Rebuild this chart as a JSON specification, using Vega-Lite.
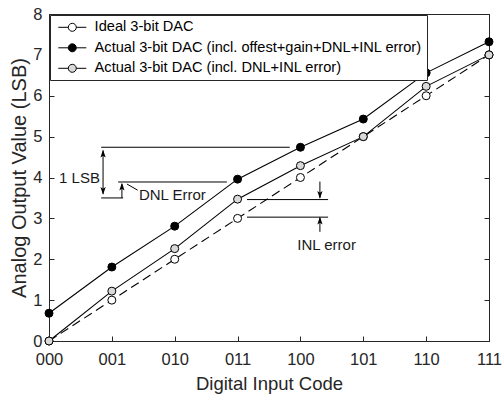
{
  "$schema": "https://vega.github.io/schema/vega-lite/v6.json",
  "width": 440,
  "height": 327,
  "autosize": {"type": "none"},
  "padding": {"left": 49, "top": 14, "right": 13, "bottom": 53},
  "background": "white",
  "config": {
    "font": "Liberation Sans",
    "view": {"stroke": "#262626", "strokeWidth": 1},
    "axis": {
      "grid": false,
      "domainColor": "#262626",
      "tickColor": "#262626",
      "labelColor": "#262626",
      "titleColor": "#262626",
      "labelFont": "Liberation Sans",
      "titleFont": "Liberation Sans",
      "titleFontWeight": "normal",
      "labelFlush": false,
      "labelOverlap": false,
      "tickSize": -5
    }
  },
  "datasets": {
    "dac": [
      {"code": 0, "value": 0, "series": "Ideal 3-bit DAC"},
      {"code": 1, "value": 1, "series": "Ideal 3-bit DAC"},
      {"code": 2, "value": 2, "series": "Ideal 3-bit DAC"},
      {"code": 3, "value": 3, "series": "Ideal 3-bit DAC"},
      {"code": 4, "value": 4, "series": "Ideal 3-bit DAC"},
      {"code": 5, "value": 5, "series": "Ideal 3-bit DAC"},
      {"code": 6, "value": 6, "series": "Ideal 3-bit DAC"},
      {"code": 7, "value": 7, "series": "Ideal 3-bit DAC"},
      {"code": 0, "value": 0.68, "series": "Actual 3-bit DAC (incl. offest+gain+DNL+INL error)"},
      {"code": 1, "value": 1.81, "series": "Actual 3-bit DAC (incl. offest+gain+DNL+INL error)"},
      {"code": 2, "value": 2.81, "series": "Actual 3-bit DAC (incl. offest+gain+DNL+INL error)"},
      {"code": 3, "value": 3.96, "series": "Actual 3-bit DAC (incl. offest+gain+DNL+INL error)"},
      {"code": 4, "value": 4.74, "series": "Actual 3-bit DAC (incl. offest+gain+DNL+INL error)"},
      {"code": 5, "value": 5.43, "series": "Actual 3-bit DAC (incl. offest+gain+DNL+INL error)"},
      {"code": 6, "value": 6.56, "series": "Actual 3-bit DAC (incl. offest+gain+DNL+INL error)"},
      {"code": 7, "value": 7.32, "series": "Actual 3-bit DAC (incl. offest+gain+DNL+INL error)"},
      {"code": 0, "value": 0, "series": "Actual 3-bit DAC (incl. DNL+INL error)"},
      {"code": 1, "value": 1.22, "series": "Actual 3-bit DAC (incl. DNL+INL error)"},
      {"code": 2, "value": 2.26, "series": "Actual 3-bit DAC (incl. DNL+INL error)"},
      {"code": 3, "value": 3.47, "series": "Actual 3-bit DAC (incl. DNL+INL error)"},
      {"code": 4, "value": 4.29, "series": "Actual 3-bit DAC (incl. DNL+INL error)"},
      {"code": 5, "value": 5.0, "series": "Actual 3-bit DAC (incl. DNL+INL error)"},
      {"code": 6, "value": 6.23, "series": "Actual 3-bit DAC (incl. DNL+INL error)"},
      {"code": 7, "value": 7.0, "series": "Actual 3-bit DAC (incl. DNL+INL error)"}
    ],
    "segments": [
      {"x": 0.83, "x2": 3.83, "y": 4.74, "y2": 4.74},
      {"x": 1.1, "x2": 2.83, "y": 3.89, "y2": 3.89},
      {"x": 0.83, "x2": 1.18, "y": 3.5, "y2": 3.5},
      {"x": 3.15, "x2": 4.44, "y": 3.46, "y2": 3.46},
      {"x": 3.15, "x2": 4.44, "y": 3.03, "y2": 3.03},
      {"x": 0.86, "x2": 0.86, "y": 3.6, "y2": 4.66},
      {"x": 1.16, "x2": 1.16, "y": 3.5, "y2": 3.84},
      {"x": 4.31, "x2": 4.31, "y": 3.9, "y2": 3.5},
      {"x": 4.31, "x2": 4.31, "y": 2.67, "y2": 3.02},
      {"x": 1.24, "x2": 1.41, "y": 3.84, "y2": 3.69}
    ],
    "heads": [
      {"x": 0.86, "y": 4.68, "dir": "up"},
      {"x": 0.86, "y": 3.58, "dir": "down"},
      {"x": 1.16, "y": 3.87, "dir": "up"},
      {"x": 4.31, "y": 3.48, "dir": "down"},
      {"x": 4.31, "y": 3.04, "dir": "up"}
    ],
    "notes": [
      {"x": 0.16, "y": 4.0, "text": "1 LSB"},
      {"x": 1.43, "y": 3.57, "text": "DNL Error"},
      {"x": 3.95, "y": 2.35, "text": "INL error"}
    ]
  },
  "layer": [
    {
      "data": {"name": "dac"},
      "encoding": {
        "x": {
          "field": "code",
          "type": "quantitative",
          "scale": {"domain": [0, 7], "nice": false, "zero": false},
          "axis": {
            "orient": "bottom",
            "values": [0, 1, 2, 3, 4, 5, 6, 7],
            "labelExpr": "['000','001','010','011','100','101','110','111'][datum.value]",
            "labelFontSize": 16.5,
            "labelPadding": 15,
            "title": "Digital Input Code",
            "titleFontSize": 18.5,
            "titlePadding": 7
          }
        },
        "y": {
          "field": "value",
          "type": "quantitative",
          "scale": {"domain": [0, 8], "nice": false},
          "axis": {
            "orient": "left",
            "values": [0, 1, 2, 3, 4, 5, 6, 7, 8],
            "labelFontSize": 16.5,
            "labelPadding": 12,
            "title": "Analog Output Value (LSB)",
            "titleFontSize": 20,
            "titlePadding": 3
          }
        }
      },
      "layer": [
        {
          "transform": [{"filter": "datum.series === 'Ideal 3-bit DAC'"}],
          "mark": {"type": "line", "color": "black", "strokeWidth": 1.1, "strokeDash": [9, 5]}
        },
        {
          "transform": [{"filter": "datum.series !== 'Ideal 3-bit DAC'"}],
          "mark": {"type": "line", "color": "black", "strokeWidth": 1.1},
          "encoding": {"detail": {"field": "series"}}
        },
        {
          "mark": {"type": "circle", "size": 64, "opacity": 1, "stroke": "black", "strokeWidth": 1},
          "encoding": {
            "fill": {
              "field": "series",
              "type": "nominal",
              "sort": null,
              "scale": {
                "domain": [
                  "Ideal 3-bit DAC",
                  "Actual 3-bit DAC (incl. offest+gain+DNL+INL error)",
                  "Actual 3-bit DAC (incl. DNL+INL error)"
                ],
                "range": ["#ffffff", "#000000", "#d9d9d9"]
              },
              "legend": {
                "title": null,
                "orient": "top-left",
                "offset": 1,
                "padding": 5,
                "fillColor": "white",
                "strokeColor": "#262626",
                "cornerRadius": 0,
                "labelFont": "Liberation Sans",
                "labelFontSize": 14.6,
                "labelColor": "#000000",
                "labelLimit": 600,
                "rowPadding": 5.5,
                "symbolType": "M-1,0A1,1,0,1,0,1,0A1,1,0,1,0,-1,0M-3.5,0L-1,0M1,0L3.5,0",
                "symbolSize": 64,
                "symbolStrokeColor": "black",
                "symbolStrokeWidth": 1,
                "symbolOffset": 10,
                "labelOffset": 15
              }
            }
          }
        }
      ]
    },
    {
      "data": {"name": "segments"},
      "mark": {"type": "rule", "color": "black", "strokeWidth": 1},
      "encoding": {
        "x": {"field": "x", "type": "quantitative", "axis": {"orient": "top", "values": [0, 1, 2, 3, 4, 5, 6, 7], "labels": false, "title": null, "domain": true}},
        "x2": {"field": "x2"},
        "y": {"field": "y", "type": "quantitative", "axis": {"orient": "right", "values": [0, 1, 2, 3, 4, 5, 6, 7, 8], "labels": false, "title": null, "domain": true}},
        "y2": {"field": "y2"}
      }
    },
    {
      "data": {"name": "heads"},
      "mark": {"type": "point", "filled": true, "color": "black", "size": 49, "opacity": 1},
      "encoding": {
        "x": {"field": "x", "type": "quantitative", "axis": null},
        "y": {"field": "y", "type": "quantitative", "axis": null},
        "shape": {
          "field": "dir",
          "type": "nominal",
          "scale": {
            "domain": ["up", "down"],
            "range": ["M0,0L-0.75,2.2L0,1.7L0.75,2.2Z", "M0,0L-0.75,-2.2L0,-1.7L0.75,-2.2Z"]
          },
          "legend": null
        }
      }
    },
    {
      "data": {"name": "notes"},
      "mark": {"type": "text", "align": "left", "baseline": "middle", "font": "Liberation Sans", "fontSize": 15, "color": "#1a1a1a"},
      "encoding": {
        "x": {"field": "x", "type": "quantitative", "axis": null},
        "y": {"field": "y", "type": "quantitative", "axis": null},
        "text": {"field": "text"}
      }
    }
  ],
  "resolve": {"axis": {"x": "independent", "y": "independent"}}
}
